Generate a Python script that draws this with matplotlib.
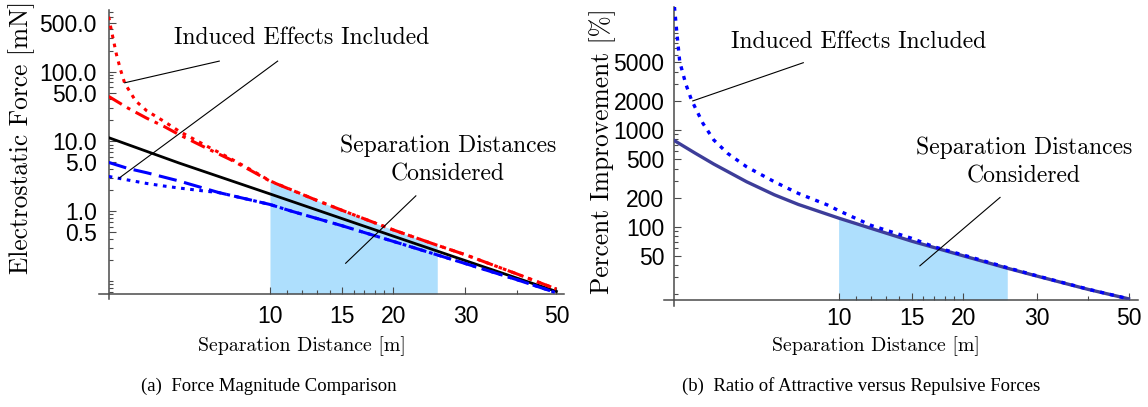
import matplotlib
matplotlib.use("Agg")
import matplotlib.pyplot as plt
import numpy as np

# ---------------------------------------------------------------------------
# Data (log-log, separation distance in m)
# ---------------------------------------------------------------------------

# (a) Force magnitude comparison [mN]
black_x = [4.04, 6.0, 10.0, 20.0, 30.0, 50.0]
black_y = [11.3, 4.9, 1.77, 0.44, 0.196, 0.071]

red_dashdot_x = [4.04, 4.5, 5.0, 5.5, 6.0, 7.0, 8.0, 9.0, 10.0, 12.9, 15.0, 20.0, 25.6, 30.0, 40.0, 50.0]
red_dashdot_y = [44, 30, 21.5, 16.5, 12.5, 8.0, 5.5, 3.8, 2.7, 1.46, 1.03, 0.54, 0.326, 0.238, 0.127, 0.077]

red_dotted_x = [4.04, 4.08, 4.13, 4.22, 4.32, 4.42, 4.7, 5.0, 5.5, 6.0, 7.0, 8.0, 9.0,
                10.0, 12.9, 15.0, 20.0, 25.6, 30.0, 40.0, 50.0]
red_dotted_y = [610, 450, 320, 175, 105, 68, 38, 27.5, 19.5, 14.0, 8.6, 5.7, 3.9,
                2.72, 1.46, 1.03, 0.54, 0.326, 0.238, 0.127, 0.077]

blue_dashed_x = [4.04, 4.5, 5.0, 6.0, 7.5, 10.0, 11.3, 15.0, 20.0, 25.6, 30.0, 40.0, 50.0]
blue_dashed_y = [5.0, 4.1, 3.56, 2.71, 1.85, 1.25, 1.0, 0.62, 0.37, 0.237, 0.178, 0.105, 0.068]

blue_dotted_x = [4.04, 4.5, 5.0, 5.5, 6.0, 7.0, 7.5, 10.0, 11.3, 15.0, 20.0, 25.6, 30.0, 40.0, 50.0]
blue_dotted_y = [3.15, 2.8, 2.5, 2.3, 2.15, 1.93, 1.85, 1.25, 1.0, 0.62, 0.37, 0.237, 0.178, 0.105, 0.068]

# (b) Percent improvement [%]
ratio_x = [4.0, 4.5, 5.0, 6.0, 7.0, 8.0, 10.0, 12.0, 15.0, 20.0, 25.5, 30.0, 40.0, 50.0]
ratio_y = [787, 580, 445, 292, 214, 170, 123, 96, 71, 50, 37.3, 31, 22.5, 18]

ratio_ind_x = [4.02, 4.08, 4.14, 4.28, 4.42, 4.71, 5.0, 5.4, 6.0, 7.0, 8.0, 9.4, 10.0,
               12.0, 15.0, 17.0, 20.0, 25.5, 30.0, 40.0, 50.0]
ratio_ind_y = [18800, 9500, 5080, 3000, 2040, 1170, 790, 574, 417, 292, 221, 168, 147,
               103, 76, 62, 51, 37.8, 31.2, 22.6, 18]

SHADE_A = (10.0, 25.6)
SHADE_B = (10.0, 25.5)

X_TICKS = [10, 15, 20, 30, 50]
X_MINOR = [11, 12, 13, 14, 16, 17, 18, 19, 40]
YA_TICKS = [0.5, 1, 5, 10, 50, 100, 500]
YA_LABELS = ["0.5", "1.0", "5.0", "10.0", "50.0", "100.0", "500.0"]
YB_TICKS = [50, 100, 200, 500, 1000, 2000, 5000]
YB_LABELS = ["50", "100", "200", "500", "1000", "2000", "5000"]

# ---------------------------------------------------------------------------
# Style
# ---------------------------------------------------------------------------

W, H = 1148, 407
SERIF = "cmr10"
TICK_FAMILY, TICK_SIZE = "Liberation Sans", 16.5
AX_COLOR = "#4a4a4a"
SHADE = "#aedffd"
RED, BLUE, NAVY = "#ff0000", "#0000ff", "#3d3d99"

fig = plt.figure(figsize=(W / 100, H / 100), dpi=100)


def px_axes(left, top, right, bottom):
    return fig.add_axes([left / W, 1 - bottom / H, (right - left) / W, (bottom - top) / H])


def minor_log(lo, hi, skip):
    out = []
    for e in range(-2, 5):
        for m in range(1, 10):
            v = m * 10.0 ** e
            if lo < v < hi and not any(abs(v - s) < 1e-9 * v for s in skip):
                out.append(v)
    return out


def style_axes(ax, xlim, ylim, yticks, ylabels, ypad, xpad):
    ax.set_xscale("log")
    ax.set_yscale("log")
    ax.set_xlim(*xlim)
    ax.set_ylim(*ylim)
    for s in ax.spines.values():
        s.set_visible(False)
    # Mathematica-style axes: x axis pokes out a little left of the y axis
    ax.plot([-0.022, 1.0], [0, 0], transform=ax.transAxes, color=AX_COLOR, lw=1.1, clip_on=False)
    ax.plot([0, 0], [-0.02, 1.0], transform=ax.transAxes, color=AX_COLOR, lw=1.1, clip_on=False)
    ax.set_xticks(X_TICKS, [str(t) for t in X_TICKS])
    ax.set_xticks(X_MINOR, minor=True)
    ax.set_yticks(yticks, ylabels)
    ax.set_yticks(minor_log(ylim[0], ylim[1], yticks), minor=True)
    ax.xaxis.set_minor_formatter(plt.NullFormatter())
    ax.yaxis.set_minor_formatter(plt.NullFormatter())
    ax.tick_params(which="both", direction="in", color=AX_COLOR, width=0.8)
    ax.tick_params(which="major", length=5)
    ax.tick_params(which="minor", length=3)
    ax.tick_params(axis="x", which="major", pad=xpad)
    ax.tick_params(axis="y", which="major", pad=ypad)
    for lab in ax.get_xticklabels() + ax.get_yticklabels():
        lab.set_fontfamily(TICK_FAMILY)
        lab.set_fontsize(TICK_SIZE)
    ax.set_facecolor("none")


def fig_text(x, y, s, **kw):
    fig.text(x / W, 1 - y / H, s, ha="center", va="center", **kw)


# ---------------------------------------------------------------------------
# (a) Force magnitude comparison
# ---------------------------------------------------------------------------
ax1 = px_axes(108.7, 10, 563.7, 293.7)
style_axes(ax1, (4.04, 52.1), (0.066, 760), YA_TICKS, YA_LABELS, ypad=8.5, xpad=8)

rx = np.array(red_dotted_x)
ry = np.array(red_dotted_y)
m = (rx >= SHADE_A[0]) & (rx <= SHADE_A[1])
ax1.fill_between(rx[m], 0.066, ry[m], color=SHADE, lw=0, zorder=1)

ax1.plot(black_x, black_y, color="black", lw=2.0, zorder=3)
ax1.plot(blue_dashed_x, blue_dashed_y, color=BLUE, lw=2.2, dashes=(6, 2.5), zorder=3)
ax1.plot(blue_dotted_x, blue_dotted_y, color=BLUE, lw=2.2, dashes=(1.2, 1.8), zorder=3)
ax1.plot(red_dashdot_x, red_dashdot_y, color=RED, lw=2.2, dashes=(5, 2, 1.2, 2), zorder=3)
ax1.plot(red_dotted_x, red_dotted_y, color=RED, lw=2.2, dashes=(1.2, 1.8), zorder=3)

# annotation leaders
ax1.plot([7.52, 4.42], [141, 69], color="black", lw=0.8, zorder=4)
ax1.plot([10.44, 4.28], [141, 2.97], color="black", lw=0.8, zorder=4)
ax1.plot([22.7, 15.3], [1.66, 0.18], color="black", lw=0.8, zorder=4)

fig_text(302, 38, "Induced Effects Included", family=SERIF, size=17)
fig_text(448, 146, "Separation Distances", family=SERIF, size=17)
fig_text(448, 174, "Considered", family=SERIF, size=17)
fig.text(21.7 / W, 1 - 137 / H, "Electrostatic Force [mN]", rotation=90,
         ha="center", va="center", family=SERIF, size=18.3)
fig_text(302, 346, "Separation Distance [m]", family=SERIF, size=14.3)
fig_text(269, 386, "(a)  Force Magnitude Comparison", family="Liberation Serif", size=13.5)

# ---------------------------------------------------------------------------
# (b) Ratio of attractive versus repulsive forces
# ---------------------------------------------------------------------------
ax2 = px_axes(674, 7, 1137.7, 300)
style_axes(ax2, (4.01, 52.6), (17.5, 18700), YB_TICKS, YB_LABELS, ypad=7, xpad=5)

bx = np.array(ratio_x)
by = np.array(ratio_y)
m = (bx >= SHADE_B[0]) & (bx <= SHADE_B[1])
ax2.fill_between(bx[m], 17.5, by[m], color=SHADE, lw=0, zorder=1)

ax2.plot(ratio_x, ratio_y, color=NAVY, lw=2.4, zorder=3)
ax2.plot(ratio_ind_x, ratio_ind_y, color=BLUE, lw=2.4, dashes=(1.2, 1.8), zorder=3)

ax2.plot([8.22, 4.45], [4966, 2000], color="black", lw=0.8, zorder=4)
ax2.plot([24.5, 15.7], [201, 39.5], color="black", lw=0.8, zorder=4)

fig_text(859, 42, "Induced Effects Included", family=SERIF, size=17)
fig_text(1024, 148, "Separation Distances", family=SERIF, size=17)
fig_text(1024, 176, "Considered", family=SERIF, size=17)
fig.text(603 / W, 1 - 151 / H, "Percent Improvement [%]", rotation=90,
         ha="center", va="center", family=SERIF, size=18.3)
fig_text(876, 346, "Separation Distance [m]", family=SERIF, size=14.3)
fig_text(861, 386, "(b)  Ratio of Attractive versus Repulsive Forces", family="Liberation Serif", size=13.5)

fig.savefig("out.png", dpi=100)
